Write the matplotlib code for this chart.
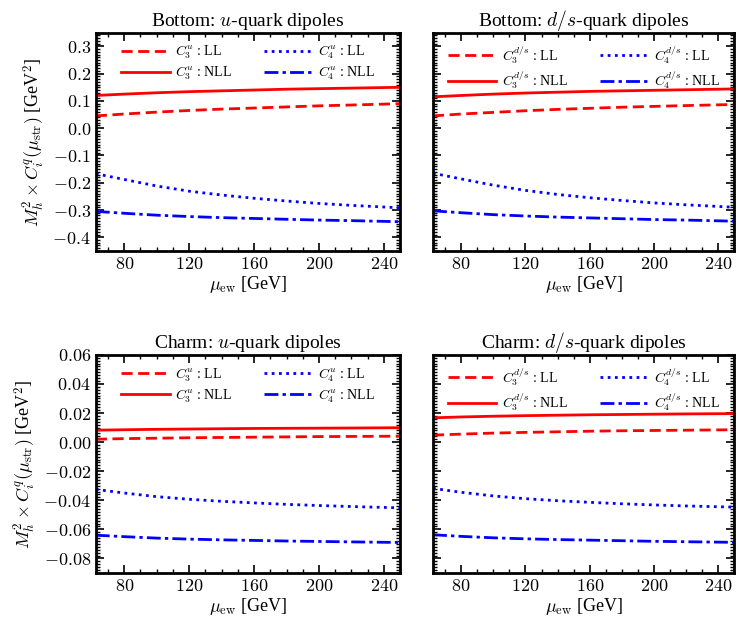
import matplotlib
matplotlib.use("Agg")
import matplotlib.pyplot as plt
from matplotlib.ticker import MultipleLocator, FuncFormatter

plt.rcParams['font.family'] = 'serif'
plt.rcParams['font.serif'] = ['Liberation Serif', 'DejaVu Serif']
plt.rcParams['mathtext.fontset'] = 'cm'

# mu_ew grid [GeV]
mu = [62.5, 80, 100, 120, 140, 160, 180, 200, 220, 250]

# bottom, u-quark
b_u_c3_ll = [0.045, 0.052, 0.059, 0.065, 0.070, 0.074, 0.078, 0.082, 0.085, 0.090]
b_u_c3_nll = [0.120, 0.125, 0.130, 0.134, 0.137, 0.140, 0.143, 0.145, 0.147, 0.150]
b_u_c4_ll = [-0.167, -0.188, -0.212, -0.231, -0.245, -0.257, -0.267, -0.276, -0.283, -0.292]
b_u_c4_nll = [-0.305, -0.312, -0.319, -0.324, -0.328, -0.331, -0.334, -0.337, -0.339, -0.343]

# bottom, d/s-quark
b_d_c3_ll = [0.045, 0.052, 0.058, 0.064, 0.069, 0.073, 0.077, 0.080, 0.083, 0.087]
b_d_c3_nll = [0.115, 0.120, 0.125, 0.129, 0.132, 0.135, 0.137, 0.139, 0.141, 0.144]
b_d_c4_ll = [-0.165, -0.186, -0.209, -0.228, -0.243, -0.255, -0.265, -0.274, -0.281, -0.290]
b_d_c4_nll = [-0.303, -0.310, -0.317, -0.322, -0.326, -0.329, -0.332, -0.335, -0.337, -0.341]

# charm, u-quark
c_u_c3_ll = [0.0020, 0.0024, 0.0027, 0.0030, 0.0032, 0.0034, 0.0036, 0.0038, 0.0039, 0.0041]
c_u_c3_nll = [0.0082, 0.0085, 0.0088, 0.0090, 0.0092, 0.0094, 0.0095, 0.0096, 0.0097, 0.0099]
c_u_c4_ll = [-0.0325, -0.0350, -0.0375, -0.0393, -0.0407, -0.0418, -0.0428, -0.0436, -0.0443, -0.0452]
c_u_c4_nll = [-0.0640, -0.0650, -0.0660, -0.0667, -0.0672, -0.0676, -0.0680, -0.0683, -0.0686, -0.0690]

# charm, d/s-quark
c_d_c3_ll = [0.0048, 0.0055, 0.0062, 0.0067, 0.0071, 0.0075, 0.0078, 0.0080, 0.0082, 0.0085]
c_d_c3_nll = [0.0167, 0.0173, 0.0178, 0.0182, 0.0185, 0.0188, 0.0190, 0.0192, 0.0194, 0.0196]
c_d_c4_ll = [-0.0318, -0.0345, -0.0370, -0.0389, -0.0403, -0.0414, -0.0424, -0.0432, -0.0439, -0.0447]
c_d_c4_nll = [-0.0637, -0.0648, -0.0658, -0.0665, -0.0670, -0.0674, -0.0678, -0.0682, -0.0685, -0.0689]

panels = [
    ('Bottom: $u$-quark dipoles', 'u', (b_u_c3_ll, b_u_c3_nll, b_u_c4_ll, b_u_c4_nll), 'b'),
    ('Bottom: $d/s$-quark dipoles', 'd/s', (b_d_c3_ll, b_d_c3_nll, b_d_c4_ll, b_d_c4_nll), 'b'),
    ('Charm: $u$-quark dipoles', 'u', (c_u_c3_ll, c_u_c3_nll, c_u_c4_ll, c_u_c4_nll), 'c'),
    ('Charm: $d/s$-quark dipoles', 'd/s', (c_d_c3_ll, c_d_c3_nll, c_d_c4_ll, c_d_c4_nll), 'c'),
]

fig = plt.figure(figsize=(7.37, 6.18), dpi=100)
boxes = [
    [0.130, 0.594, 0.413, 0.353],
    [0.5875, 0.594, 0.409, 0.353],
    [0.130, 0.0728, 0.413, 0.353],
    [0.5875, 0.0728, 0.409, 0.353],
]

for i, (title, q, ys, kind) in enumerate(panels):
    ax = fig.add_axes(boxes[i])
    c3ll, c3nll, c4ll, c4nll = ys
    # order so that the 2-column legend has C3 left, C4 right
    ax.plot(mu, c3ll, color='red', ls=(0, (4, 2)), lw=2, label=r'$C_3^{%s}$ : LL' % q)
    ax.plot(mu, c3nll, color='red', ls='-', lw=2, label=r'$C_3^{%s}$ : NLL' % q)
    ax.plot(mu, c4ll, color='blue', ls=(0, (1, 1.6)), lw=2, label=r'$C_4^{%s}$ : LL' % q)
    ax.plot(mu, c4nll, color='blue', ls=(0, (5, 1.5, 1.2, 1.5)), lw=2, label=r'$C_4^{%s}$ : NLL' % q)

    ax.set_xlim(62.5, 250)
    ax.xaxis.set_major_locator(MultipleLocator(40))
    ax.xaxis.set_minor_locator(MultipleLocator(10))
    ax.xaxis.set_major_formatter(FuncFormatter(lambda v, p: r'$%d$' % v))
    if kind == 'b':
        ax.set_ylim(-0.45, 0.35)
        ax.yaxis.set_major_locator(MultipleLocator(0.1))
        ax.yaxis.set_minor_locator(MultipleLocator(0.01))
        ax.yaxis.set_major_formatter(FuncFormatter(lambda v, p: r'$%.1f$' % v))
    else:
        ax.set_ylim(-0.09, 0.06)
        ax.yaxis.set_major_locator(MultipleLocator(0.02))
        ax.yaxis.set_minor_locator(MultipleLocator(0.002))
        ax.yaxis.set_major_formatter(FuncFormatter(lambda v, p: r'$%.2f$' % v))

    ax.tick_params(which='both', direction='in', top=True, right=True, labelsize=13)
    ax.tick_params(which='major', length=6, width=1.2)
    ax.tick_params(which='minor', length=3, width=1.0)
    for s in ax.spines.values():
        s.set_linewidth(2)

    if i % 2 == 1:
        ax.set_yticklabels([])
    else:
        ax.set_ylabel(r'$M_h^2 \times C_i^q(\mu_{\rm str})$ [GeV$^2$]', fontsize=13)
    ax.set_xlabel(r'$\mu_{\rm ew}$ [GeV]', fontsize=13, labelpad=1)
    ax.set_title(title, fontsize=14, pad=5)

    ax.legend(loc='upper center', ncol=2, frameon=False, fontsize=10,
              handlelength=3.5, columnspacing=2.3, handletextpad=0.4,
              labelspacing=0.25, borderpad=0.3, bbox_to_anchor=(0.5, 1.0))

fig.savefig('out.png', dpi=100)
